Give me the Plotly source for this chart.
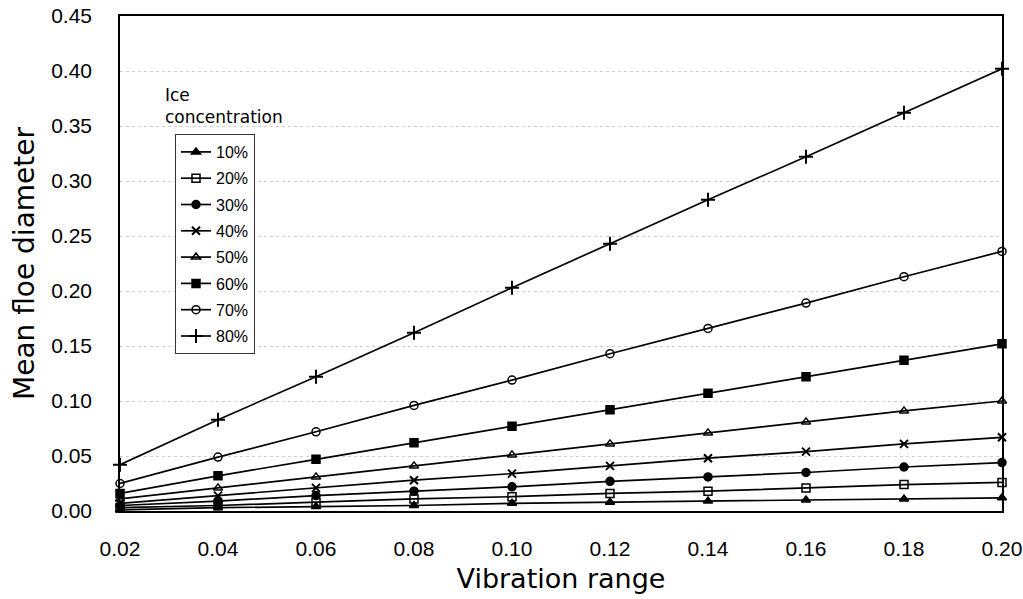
import plotly.graph_objects as go

vibration = [0.02, 0.04, 0.06, 0.08, 0.10, 0.12, 0.14, 0.16, 0.18, 0.20]

series_names = ["10%", "20%", "30%", "40%", "50%", "60%", "70%", "80%"]
c10 = [0.001, 0.003, 0.004, 0.005, 0.007, 0.008, 0.009, 0.010, 0.011, 0.012]
c20 = [0.003, 0.005, 0.008, 0.011, 0.013, 0.016, 0.018, 0.021, 0.024, 0.026]
c30 = [0.005, 0.009, 0.014, 0.018, 0.022, 0.027, 0.031, 0.035, 0.040, 0.044]
c40 = [0.007, 0.014, 0.021, 0.028, 0.034, 0.041, 0.048, 0.054, 0.061, 0.067]
c50 = [0.011, 0.021, 0.031, 0.041, 0.051, 0.061, 0.071, 0.081, 0.091, 0.100]
c60 = [0.016, 0.032, 0.047, 0.062, 0.077, 0.092, 0.107, 0.122, 0.137, 0.152]
c70 = [0.025, 0.049, 0.072, 0.096, 0.119, 0.143, 0.166, 0.189, 0.213, 0.236]
c80 = [0.042, 0.083, 0.122, 0.162, 0.203, 0.243, 0.283, 0.322, 0.362, 0.402]
values = [c10, c20, c30, c40, c50, c60, c70, c80]

symbols = ["triangle-up", "square-open", "circle", "x-thin-open",
           "triangle-up-open", "square", "circle-open", "cross-thin-open"]
sizes = [8, 8, 8, 8, 8, 8, 8, 10]

x_ticks = [0.02, 0.04, 0.06, 0.08, 0.10, 0.12, 0.14, 0.16, 0.18, 0.20]
y_ticks = [0.00, 0.05, 0.10, 0.15, 0.20, 0.25, 0.30, 0.35, 0.40, 0.45]

W, H = 1023, 599
L, R, T, B = 120, 21, 16, 88
PW, PH = W - L - R, H - T - B


def px_x(sx):
    return (sx - L) / PW


def px_y(sy):
    return (T + PH - sy) / PH


fig = go.Figure()
for name, ys, sym, sz in zip(series_names, values, symbols, sizes):
    fig.add_trace(go.Scatter(
        x=vibration, y=ys, name=name, mode="lines+markers",
        legendgroup=name,
        line=dict(color="black", width=1.7),
        marker=dict(symbol=sym, size=sz, color="black",
                    line=dict(color="black", width=1.5 if "thin" not in sym else 2)),
        cliponaxis=False,
    ))

fig.update_layout(
    width=W, height=H,
    paper_bgcolor="white", plot_bgcolor="white",
    margin=dict(l=L, r=R, t=T, b=B),
    font=dict(family="Liberation Sans", color="black"),
    showlegend=True,
    legend=dict(
        x=px_x(175), y=px_y(134), xanchor="left", yanchor="top",
        bordercolor="#333333", borderwidth=1, bgcolor="white",
        font=dict(size=16, family="Liberation Sans", color="black"),
        itemwidth=30, tracegroupgap=2.5,
    ),
    annotations=[dict(
        text="Ice<br>concentration", xref="paper", yref="paper",
        x=px_x(163), y=px_y(83), xanchor="left", yanchor="top",
        showarrow=False, align="left",
        font=dict(size=17, family="DejaVu Sans", color="black"),
    )],
)

fig.update_xaxes(
    range=[0.02, 0.20], tickvals=x_ticks, tickformat=".2f",
    showline=True, linecolor="black", linewidth=1.5, mirror=True,
    showgrid=False, zeroline=False, ticks="", ticklabelstandoff=18,
    ticklabeloverflow="allow", automargin=False,
    tickfont=dict(size=21, family="Liberation Sans"),
    title=dict(text="Vibration range", font=dict(size=27, family="DejaVu Sans"), standoff=10),
)
fig.update_yaxes(
    range=[0, 0.45], tickvals=y_ticks, tickformat=".2f",
    showline=True, linecolor="black", linewidth=1.5, mirror=True,
    showgrid=True, gridcolor="#d0d0d0", griddash="dot", gridwidth=1,
    zeroline=False, ticks="", ticklabelstandoff=22,
    ticklabeloverflow="allow", automargin=False,
    tickfont=dict(size=21, family="Liberation Sans"),
    title=dict(text="Mean floe diameter", font=dict(size=28, family="DejaVu Sans"), standoff=8),
)

fig.write_html("out.html", config={"displayModeBar": False},
               post_script="document.body.style.margin='0px';")
